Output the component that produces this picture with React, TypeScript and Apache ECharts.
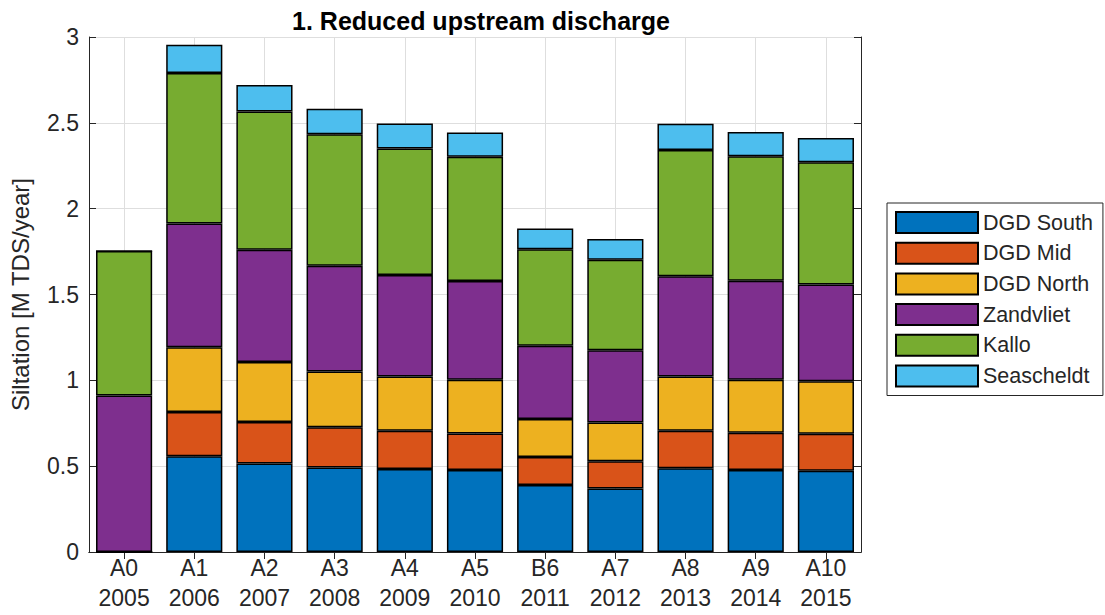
import React, { useEffect, useRef } from "react";
import * as echarts from "echarts";

const categories = ["A0\n2005", "A1\n2006", "A2\n2007", "A3\n2008", "A4\n2009", "A5\n2010", "B6\n2011", "A7\n2012", "A8\n2013", "A9\n2014", "A10\n2015"];
const seriesNames = ["DGD South", "DGD Mid", "DGD North", "Zandvliet", "Kallo", "Seascheldt"];
const seriesColors = ["#0072BD", "#D95319", "#EDB120", "#7E2F8E", "#77AC30", "#4DBEEE"];
const dgdSouth = [0, 0.558, 0.516, 0.492, 0.484, 0.477, 0.391, 0.37, 0.488, 0.477, 0.473];
const dgdMid = [0, 0.257, 0.241, 0.234, 0.222, 0.214, 0.163, 0.159, 0.218, 0.218, 0.216];
const dgdNorth = [0, 0.378, 0.35, 0.326, 0.317, 0.313, 0.221, 0.226, 0.317, 0.309, 0.305];
const zandvliet = [0.912, 0.72, 0.654, 0.615, 0.59, 0.574, 0.427, 0.42, 0.584, 0.576, 0.564];
const kallo = [0.841, 0.877, 0.805, 0.767, 0.737, 0.725, 0.562, 0.527, 0.735, 0.725, 0.712];
const seascheldt = [0, 0.165, 0.154, 0.148, 0.146, 0.141, 0.121, 0.121, 0.152, 0.141, 0.141];
const seriesData = [dgdSouth, dgdMid, dgdNorth, zandvliet, kallo, seascheldt];

const FONT = "'Liberation Sans', Arial, Helvetica, sans-serif";
const AX = "#262626";
const GRID = "#dedede";

export default function App() {
  const ref = useRef<HTMLDivElement>(null);
  useEffect(() => {
    if (!ref.current) return;
    const chart = echarts.init(ref.current, null, { renderer: "svg" });
    const option: any = {
      animation: false,
      backgroundColor: "#ffffff",
      textStyle: { fontFamily: FONT },
      title: {
        text: "1. Reduced upstream discharge",
        left: 476,
        top: 3,
        textAlign: "center",
        textStyle: { fontFamily: FONT, fontSize: 25, fontWeight: "bold", color: "#000" },
      },
      legend: {
        orient: "vertical",
        left: 887,
        top: 203,
        padding: [8, 10, 8, 8],
        itemWidth: 82,
        itemHeight: 21,
        itemGap: 7.7,
        icon: "rect",
        borderColor: AX,
        borderWidth: 1,
        backgroundColor: "#fff",
        textStyle: { fontFamily: FONT, fontSize: 21.5, color: AX },
        data: seriesNames,
      },
      grid: { left: 89, right: 244, top: 37, bottom: 63, containLabel: false },
      xAxis: [
        {
          type: "category",
          data: categories,
          position: "bottom",
          axisLine: { show: true, lineStyle: { color: AX, width: 1 } },
          axisTick: { show: true, inside: true, length: 7, alignWithLabel: true, interval: 0, lineStyle: { color: AX } },
          axisLabel: { interval: 0, margin: 1, fontFamily: FONT, fontSize: 23, color: AX, lineHeight: 30 },
          splitLine: { show: true, interval: 0, alignWithLabel: true, lineStyle: { color: GRID, width: 1 } },
        },
        {
          type: "category",
          data: categories,
          position: "top",
          axisLine: { show: true, lineStyle: { color: AX, width: 1 } },
          axisTick: { show: true, inside: true, length: 7, alignWithLabel: true, interval: 0, lineStyle: { color: AX } },
          axisLabel: { show: false },
          splitLine: { show: false },
        },
      ],
      yAxis: [
        {
          type: "value",
          min: 0,
          max: 3,
          interval: 0.5,
          position: "left",
          name: "Siltation [M TDS/year]",
          nameLocation: "middle",
          nameGap: 57,
          nameTextStyle: { fontFamily: FONT, fontSize: 24, color: AX },
          axisLine: { show: true, lineStyle: { color: AX, width: 1 } },
          axisTick: { show: true, inside: true, length: 7, lineStyle: { color: AX } },
          axisLabel: { margin: 10, fontFamily: FONT, fontSize: 23, color: AX },
          splitLine: { show: true, lineStyle: { color: GRID, width: 1 } },
        },
        {
          type: "value",
          min: 0,
          max: 3,
          interval: 0.5,
          position: "right",
          axisLine: { show: true, lineStyle: { color: AX, width: 1 } },
          axisTick: { show: true, inside: true, length: 7, lineStyle: { color: AX } },
          axisLabel: { show: false },
          splitLine: { show: false },
        },
      ],
      series: seriesNames.map((name, i) => ({
        name,
        type: "bar",
        stack: "total",
        xAxisIndex: 0,
        yAxisIndex: 0,
        barWidth: "80%",
        data: seriesData[i],
        itemStyle: { color: seriesColors[i], borderColor: "#000", borderWidth: 1.5 },
        emphasis: { disabled: true },
      })),
    };
    chart.setOption(option);
    return () => chart.dispose();
  }, []);
  return <div ref={ref} style={{ width: 1105, height: 615, position: "absolute", left: 0, top: 0 }} />;
}
